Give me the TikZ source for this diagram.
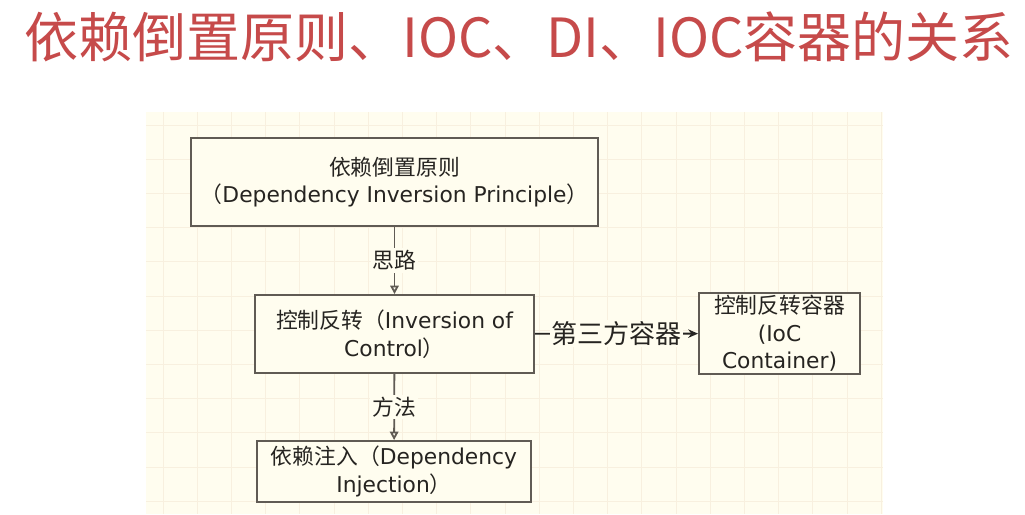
\documentclass[tikz,border=0pt]{standalone}
\usepackage{fontspec}
\setmainfont{DejaVu Sans}
\newfontfamily\cjk{Noto Sans CJK SC}
\usetikzlibrary{arrows.meta}
\definecolor{titlered}{RGB}{198,74,74}
\definecolor{paper}{RGB}{255,253,239}
\definecolor{gridline}{RGB}{248,240,223}
\definecolor{boxline}{RGB}{96,91,84}
\definecolor{inkgray}{RGB}{38,36,33}

\begin{document}
\begin{tikzpicture}[
  x=0.025cm, y=-0.025cm,
  box/.style={
    draw=boxline, line width=1.3pt, fill=paper,
    align=center, text=inkgray, inner sep=2pt,
    font=\fontsize{15.5}{19.5}\selectfont
  },
  lbl/.style={fill=paper, text=inkgray, inner sep=1.5pt,
    font=\cjk\fontsize{15.5}{18}\selectfont},
  arr/.style={-{Triangle[open, length=6pt, width=6pt]}, line width=1.3pt, boxline},
  bigarr/.style={-{Stealth[length=7pt, width=6pt]}, line width=1.3pt, inkgray}
]

\useasboundingbox[fill=white] (0,0) rectangle (1025,514);

%% -- title --
\node[anchor=base west, inner sep=0, text=titlered,
  font=\cjk\fontsize{38.4}{44}\selectfont] (title) at (24,57)
  {依赖倒置原则、IOC、DI、IOC容器的关系};

%% -- paper with grid --
\fill[paper] (146,112) rectangle (883,514);
\foreach \gx in {0,...,21}
  \draw[gridline, line width=0.5pt] (163+34.2*\gx,112) -- (163+34.2*\gx,514);
\foreach \gy in {0,...,11}
  \draw[gridline, line width=0.5pt] (146,125+34.2*\gy) -- (883,125+34.2*\gy);

%% -- boxes --
\node[box, minimum width=10.175cm, minimum height=2.2cm] (dip) at (394.5,182)
  {{\cjk 依赖倒置原则}\\{\cjk （}Dependency Inversion Principle{\cjk ）}};
\node[box, minimum width=6.975cm, minimum height=1.95cm] (ioc) at (394.5,334)
  {{\cjk 控制反转（}Inversion of\\Control{\cjk ）}};
\node[box, minimum width=4.025cm, minimum height=1.975cm] (cont) at (779.5,333.5)
  {{\cjk 控制反转容器}\\(IoC\\Container)};
\node[box, minimum width=6.85cm, minimum height=1.525cm] (di) at (394,471.5)
  {{\cjk 依赖注入（}Dependency\\Injection{\cjk ）}};

%% -- connectors --
\draw[arr] (dip) -- node[lbl] {思路} (ioc);
\draw[arr] (ioc) -- node[lbl] {方法} (di);
\draw[bigarr] (ioc) -- node[lbl, font=\cjk\fontsize{18.5}{20}\selectfont, inner sep=1pt] {第三方容器} (cont);

\end{tikzpicture}
\end{document}
